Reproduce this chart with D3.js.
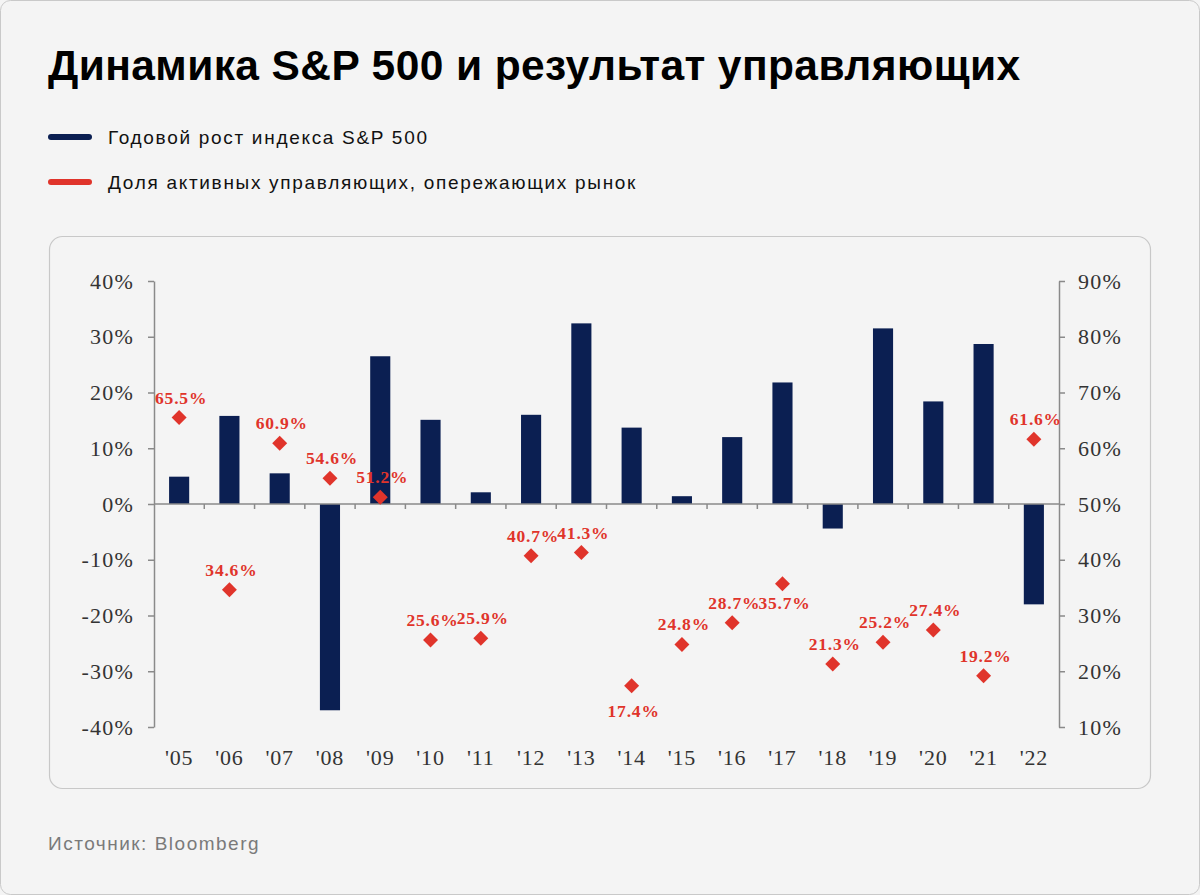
<!DOCTYPE html>
<html>
<head>
<meta charset="utf-8">
<script src="https://cdn.jsdelivr.net/npm/d3@7"></script>
<style>
  html, body { margin: 0; padding: 0; background: #f4f4f4; }
  svg { display: block; }
</style>
</head>
<body>
<svg id="chart" width="1200" height="895"></svg>
<script>
// ---- data ----
const years = ["'05","'06","'07","'08","'09","'10","'11","'12","'13","'14","'15","'16","'17","'18","'19","'20","'21","'22"];
const spReturns = [4.9, 15.8, 5.5, -37.0, 26.5, 15.1, 2.1, 16.0, 32.4, 13.7, 1.4, 12.0, 21.8, -4.4, 31.5, 18.4, 28.7, -18.0];
const managersBeating = [65.5, 34.6, 60.9, 54.6, 51.2, 25.6, 25.9, 40.7, 41.3, 17.4, 24.8, 28.7, 35.7, 21.3, 25.2, 27.4, 19.2, 61.6];
const leftTicks = [-40, -30, -20, -10, 0, 10, 20, 30, 40];
const rightTicks = [10, 20, 30, 40, 50, 60, 70, 80, 90];
const titleText = "Динамика S&P 500 и результат управляющих";
const legendLabels = ["Годовой рост индекса S&P 500", "Доля активных управляющих, опережающих рынок"];
const sourceText = "Источник: Bloomberg";
const labelsBelow = ["'14", "'17"];

// ---- style ----
const NAVY = "#0b1f52";
const RED = "#e0342b";
const SERIF = "'Liberation Serif', 'DejaVu Serif', serif";
const SANS = "'Liberation Sans', Arial, sans-serif";

const svg = d3.select("#chart");

// page frame
svg.append("rect").attr("x", 0.5).attr("y", 0.5).attr("width", 1199).attr("height", 894)
  .attr("rx", 10).attr("fill", "#f4f4f4").attr("stroke", "#c9c9c9");

// title
svg.append("text").attr("x", 48).attr("y", 80)
  .attr("font-family", SANS).attr("font-weight", 700).attr("font-size", 42.5)
  .attr("letter-spacing", 0.4)
  .attr("fill", "#000").text(titleText);

// legend
const legColors = [NAVY, RED];
const leg = svg.append("g");
legendLabels.forEach((t, i) => {
  const cy = 137 + i * 45;
  leg.append("line").attr("x1", 51).attr("x2", 89).attr("y1", cy).attr("y2", cy)
    .attr("stroke", legColors[i]).attr("stroke-width", 6).attr("stroke-linecap", "round");
  leg.append("text").attr("x", 108).attr("y", cy + 6.5)
    .attr("font-family", SANS).attr("font-size", 19).attr("letter-spacing", 1.7)
    .attr("fill", "#111").text(t);
});

// card
svg.append("rect").attr("x", 49.5).attr("y", 236.5).attr("width", 1101).attr("height", 552)
  .attr("rx", 13).attr("fill", "#f4f4f4").attr("stroke", "#c8c8c8").attr("stroke-width", 1.2);

// source
svg.append("text").attr("x", 48).attr("y", 850)
  .attr("font-family", SANS).attr("font-size", 19).attr("letter-spacing", 1.5)
  .attr("fill", "#7a7a7a").text(sourceText);

// ---- scales ----
const x = d3.scaleBand().domain(years).range([154, 1059]).paddingInner(0.6).paddingOuter(0.3);
const y = d3.scaleLinear().domain([-40, 40]).range([727, 281]);
const y2 = d3.scaleLinear().domain([10, 90]).range([727, 281]);

const g = svg.append("g");

// bars
g.selectAll("rect.bar").data(years).join("rect").attr("class", "bar")
  .attr("x", d => x(d))
  .attr("width", x.bandwidth())
  .attr("y", (d, i) => y(Math.max(0, spReturns[i])))
  .attr("height", (d, i) => Math.abs(y(spReturns[i]) - y(0)))
  .attr("fill", NAVY);

// x axis line at zero + ticks at band boundaries
const axisColor = "#8a8a8a";
g.append("line").attr("x1", x.range()[0]).attr("x2", x.range()[1])
  .attr("y1", y(0)).attr("y2", y(0)).attr("stroke", axisColor).attr("stroke-width", 1.5);
const step = x.step();
g.selectAll("line.xt").data(years.slice(1)).join("line").attr("class", "xt")
  .attr("x1", d => x(d) - (step - x.bandwidth()) / 2)
  .attr("x2", d => x(d) - (step - x.bandwidth()) / 2)
  .attr("y1", y(0)).attr("y2", y(0) + 5)
  .attr("stroke", axisColor).attr("stroke-width", 1.5);

// left axis
const leftAxis = g.append("g").attr("transform", `translate(${x.range()[0]},0)`)
  .call(d3.axisLeft(y).tickValues(leftTicks).tickFormat(d => d + "%").tickSize(6).tickSizeOuter(0).tickPadding(14));
// right axis
const rightAxis = g.append("g").attr("transform", `translate(${x.range()[1]},0)`)
  .call(d3.axisRight(y2).tickValues(rightTicks).tickFormat(d => d + "%").tickSize(6).tickSizeOuter(0).tickPadding(13));
[leftAxis, rightAxis].forEach(a => {
  a.select(".domain").attr("stroke", axisColor).attr("stroke-width", 1.5);
  a.selectAll(".tick line").attr("stroke", axisColor).attr("stroke-width", 1.5);
  a.selectAll(".tick text").attr("font-family", SERIF).attr("font-size", 22)
    .attr("letter-spacing", 1.2).attr("fill", "#333");
});

// x labels
const xAxis = g.append("g").attr("transform", `translate(0,${y(-40)})`)
  .call(d3.axisBottom(x).tickSize(0).tickPadding(22));
xAxis.select(".domain").remove();
xAxis.selectAll(".tick text").attr("font-family", SERIF).attr("font-size", 22)
  .attr("letter-spacing", 0.8).attr("fill", "#333");

// diamonds
const cx = d => x(d) + x.bandwidth() / 2;
g.selectAll("path.pt").data(years).join("path").attr("class", "pt")
  .attr("d", d3.symbol(d3.symbolSquare, 112))
  .attr("transform", (d, i) => `translate(${cx(d)},${y2(managersBeating[i])}) rotate(45)`)
  .attr("fill", RED);

// labels
g.selectAll("text.lbl").data(years).join("text").attr("class", "lbl")
  .attr("x", d => cx(d) + 2)
  .attr("y", (d, i) => y2(managersBeating[i]) + (labelsBelow.includes(d) ? (d === "'14" ? 31 : 25) : -14))
  .attr("text-anchor", "middle")
  .attr("font-family", SERIF).attr("font-weight", 700).attr("font-size", 17.5)
  .attr("letter-spacing", 0.8)
  .attr("fill", RED)
  .text((d, i) => managersBeating[i].toFixed(1) + "%");
</script>
</body>
</html>
